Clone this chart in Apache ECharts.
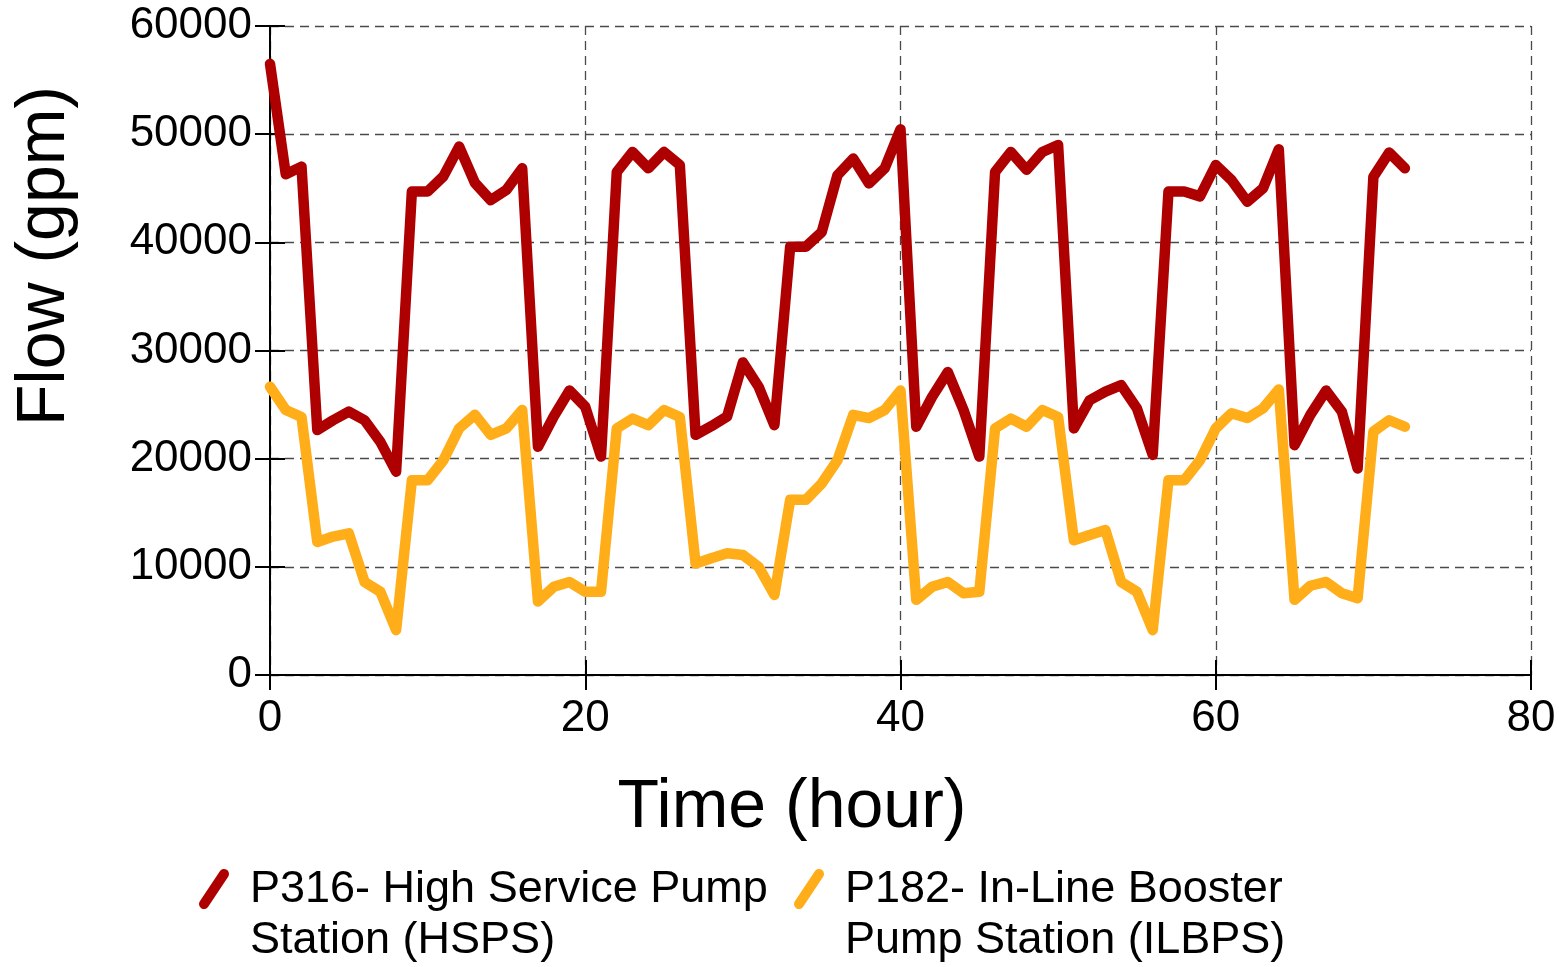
<!DOCTYPE html>
<html>
<head>
<meta charset="utf-8">
<title>Pump Station Flow</title>
<script src="https://cdn.jsdelivr.net/npm/echarts@6/dist/echarts.min.js"></script>
<style>
  html, body { margin: 0; padding: 0; background: #ffffff; }
  #chart { width: 1564px; height: 967px; }
</style>
</head>
<body>
<div id="chart"></div>
<script>
// Hourly flow (gpm) for the two pump stations over a 72-hour run
const hours = Array.from({ length: 73 }, (_, i) => i);

const hspsFlow = [
  56500, 46300, 47000, 22650, 23550, 24350, 23550, 21550, 18800, 44700,
  44700, 46100, 48850, 45500, 43900, 44850, 46850, 21100, 23900, 26300,
  24800, 20200, 46500, 48350, 46850, 48350, 47150, 22200, 23000, 23900,
  28900, 26650, 23100, 39600, 39600, 40950, 46200, 47750, 45450, 46850,
  50450, 22950, 25700, 28000, 24500, 20200, 46500, 48350, 46700, 48350,
  49000, 22800, 25400, 26200, 26800, 24650, 20350, 44700, 44700, 44250,
  47150, 45750, 43750, 45000, 48600, 21250, 24050, 26300, 24350, 19100,
  46050, 48300, 46850
];

const ilbpsFlow = [
  26650, 24500, 23850, 12300, 12800, 13100, 8600, 7700, 4150, 18000,
  18000, 19850, 22800, 24050, 22200, 22800, 24500, 6800, 8150, 8600,
  7700, 7700, 22800, 23700, 23100, 24500, 23850, 10300, 10800, 11250,
  11100, 10000, 7400, 16200, 16200, 17700, 19850, 24050, 23750, 24500,
  26300, 6950, 8150, 8600, 7550, 7700, 22800, 23700, 22950, 24500,
  23850, 12450, 12950, 13400, 8600, 7700, 4150, 18000, 18000, 19850,
  22800, 24200, 23750, 24650, 26400, 6950, 8250, 8600, 7550, 7100,
  22500, 23550, 22950
];

const seriesNames = [
  'P316- High Service Pump\nStation (HSPS)',
  'P182- In-Line Booster\nPump Station (ILBPS)'
];
const xTitle = 'Time (hour)';
const yTitle = 'Flow (gpm)';

const RED = '#AE0000';
const ORANGE = '#FFAD18';
const FONT = '"Liberation Sans", Arial, Helvetica, sans-serif';

const pairs = (vals) => hours.map((h, i) => [h, vals[i]]);

const gridLine = { show: true, lineStyle: { color: '#4a4a4a', width: 1.3, type: [9, 6] } };

const chart = echarts.init(document.getElementById('chart'), null, { renderer: 'canvas' });

chart.setOption({
  backgroundColor: '#ffffff',
  animation: false,
  grid: { left: 270, right: 33, top: 26, bottom: 292, containLabel: false },
  xAxis: [
    {
      type: 'value', min: 0, max: 80, interval: 20,
      axisLine: { show: true, onZero: false, lineStyle: { color: '#000', width: 2 } },
      axisTick: { show: true, inside: false, length: 15, lineStyle: { color: '#000', width: 2 } },
      axisLabel: { color: '#000', fontSize: 44, fontFamily: FONT, margin: 22 },
      splitLine: gridLine
    },
    {
      type: 'value', min: 0, max: 80, interval: 20, position: 'bottom',
      axisLine: { show: false },
      axisTick: { show: true, inside: true, length: 15, lineStyle: { color: '#000', width: 2 } },
      axisLabel: { show: false },
      splitLine: { show: false }
    }
  ],
  yAxis: [
    {
      type: 'value', min: 0, max: 60000, interval: 10000,
      axisLine: { show: true, onZero: false, lineStyle: { color: '#000', width: 2 } },
      axisTick: { show: true, inside: false, length: 15, lineStyle: { color: '#000', width: 2 } },
      axisLabel: { color: '#000', fontSize: 44, fontFamily: FONT, margin: 18, formatter: (v) => String(v) },
      splitLine: gridLine
    },
    {
      type: 'value', min: 0, max: 60000, interval: 10000, position: 'left',
      axisLine: { show: false },
      axisTick: { show: true, inside: true, length: 15, lineStyle: { color: '#000', width: 2 } },
      axisLabel: { show: false },
      splitLine: { show: false }
    }
  ],
  series: [
    {
      name: seriesNames[0], type: 'line', data: pairs(hspsFlow),
      showSymbol: false, symbol: 'none',
      lineStyle: { color: RED, width: 10.5, join: 'round', cap: 'round' },
      z: 3
    },
    {
      name: seriesNames[1], type: 'line', data: pairs(ilbpsFlow),
      showSymbol: false, symbol: 'none',
      lineStyle: { color: ORANGE, width: 10.5, join: 'round', cap: 'round' },
      z: 2
    }
  ],
  graphic: [
    {
      type: 'text', x: 792, y: 808,
      style: { text: xTitle, font: '68px ' + FONT, fill: '#000', textAlign: 'center', textVerticalAlign: 'middle' }
    },
    {
      type: 'text', x: 45, y: 256, rotation: Math.PI / 2,
      style: { text: yTitle, font: '68px ' + FONT, fill: '#000', textAlign: 'center', textVerticalAlign: 'middle' }
    },
    // legend entries
    {
      type: 'line', shape: { x1: 204, y1: 904, x2: 224, y2: 874 },
      style: { stroke: RED, lineWidth: 10, lineCap: 'round' }
    },
    {
      type: 'text', x: 250, y: 864,
      style: { text: seriesNames[0], font: '45px ' + FONT, fill: '#000', lineHeight: 51, textAlign: 'left', textVerticalAlign: 'top' }
    },
    {
      type: 'line', shape: { x1: 799, y1: 904, x2: 819, y2: 874 },
      style: { stroke: ORANGE, lineWidth: 10, lineCap: 'round' }
    },
    {
      type: 'text', x: 845, y: 864,
      style: { text: seriesNames[1], font: '45px ' + FONT, fill: '#000', lineHeight: 51, textAlign: 'left', textVerticalAlign: 'top' }
    }
  ]
});
</script>
</body>
</html>
